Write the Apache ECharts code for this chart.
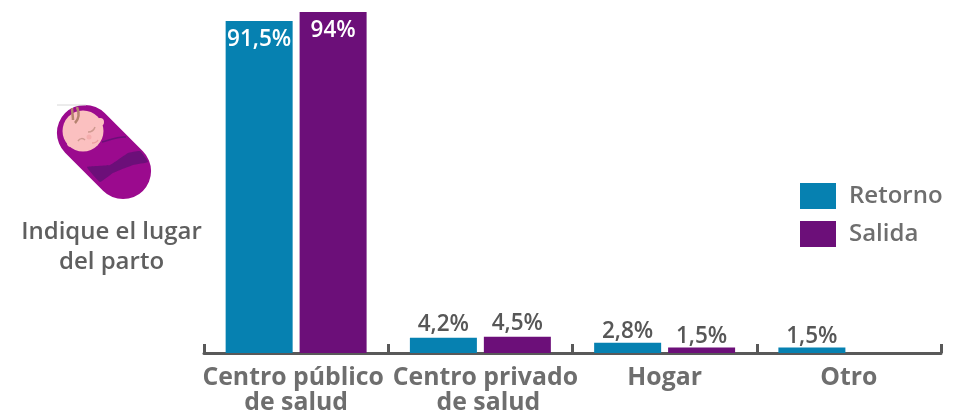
<!DOCTYPE html>
<html>
<head>
<meta charset="utf-8">
<style>html,body{margin:0;padding:0;background:#fff}#c{width:962px;height:413px}</style>
<script src="https://cdn.jsdelivr.net/npm/echarts@6/dist/echarts.min.js"></script>
</head>
<body>
<div id="c"></div>
<script>
const categories = ['Centro público\nde salud', 'Centro privado\nde salud', 'Hogar', 'Otro'];
const retorno = [91.5, 4.2, 2.8, 1.5];
const salida = [94, 4.5, 1.5, null];
const seriesNames = ['Retorno', 'Salida'];
const promptText = 'Indique el lugar\ndel parto';

const FONT = '"Open Sans"';
const BLUE = '#0681b1', PURPLE = '#6c0f79';
const fmt = p => String(p.value).replace('.', ',') + '%';
const labelFor = v => {
  if (v > 50) return { position: 'insideTop', distance: 7, color: '#fff' };
  if (v < 2) return { offset: [0, 3] };
  if (v < 3) return { offset: [0, 2] };
  return {};
};
const toItems = arr => arr.map(v => v === null ? v : ({ value: v, label: labelFor(v) }));
const chart = echarts.init(document.getElementById('c'), null, { renderer: 'canvas' });
const mkSeries = (name, arr, color) => ({
  name, type: 'bar', data: toItems(arr), barWidth: 67, barGap: '10.4%',
  itemStyle: { color },
  label: { show: true, position: 'top', distance: 2, formatter: fmt,
    fontFamily: FONT, fontWeight: 600, fontSize: 22.5, color: '#575757' }
});
const curve = (x1, y1, cpx1, cpy1, cpx2, cpy2, x2, y2, stroke, lineWidth) => ({
  type: 'bezierCurve', shape: { x1, y1, cpx1, cpy1, cpx2, cpy2, x2, y2 },
  style: { fill: 'none', stroke, lineWidth }
});
const axisRich = (extra) => Object.assign({ fontFamily: FONT, fontWeight: 700, fontSize: 24.8, lineHeight: 25, color: '#6e6e6e' }, extra);
chart.setOption({
  animation: false,
  grid: { left: 204, right: 21, top: 12, bottom: 60, outerBoundsMode: 'none' },
  legend: {
    orient: 'vertical', left: 795, top: 178, itemWidth: 36, itemHeight: 26, itemGap: 12,
    icon: 'rect', data: seriesNames, selectedMode: false,
    textStyle: { fontFamily: FONT, fontWeight: 600, fontSize: 24, color: '#6e6e6e', padding: [0, 0, 0, 8] }
  },
  xAxis: {
    type: 'category', data: categories,
    axisLine: { lineStyle: { color: '#595959', width: 3 } },
    axisTick: { show: true, inside: true, length: 9, lineStyle: { color: '#595959', width: 3 } },
    axisLabel: {
      interval: 0, margin: 12, fontFamily: FONT, fontWeight: 700, fontSize: 24.8, lineHeight: 25, color: '#6e6e6e',
      formatter: (v, i) => v.split('\n').map((l, j) => `{s${i}${j}|${l}}`).join('\n'),
      rich: {
        s00: axisRich({ padding: [0, 6, 0, 0] }), s01: axisRich({}),
        s10: axisRich({ padding: [0, 0, 0, 10] }), s11: axisRich({ padding: [0, 0, 0, 16] }),
        s20: axisRich({}), s30: axisRich({})
      }
    }
  },
  yAxis: { type: 'value', min: 0, max: 94, show: false, splitLine: { show: false } },
  series: [mkSeries(seriesNames[0], retorno, BLUE), mkSeries(seriesNames[1], salida, PURPLE)],
  graphic: [
    { type: 'rect', rotation: -Math.PI / 4, x: 104, y: 152, originX: 0, originY: 0,
      shape: { x: -55, y: -28, width: 110, height: 56, r: 28 }, style: { fill: '#9b0a8e' } },
    { type: 'polygon', shape: { smooth: 0.1, points: [[87,167],[110,165],[128,153],[140,151],[148,162],[133,165],[113,173],[100,182]] },
      style: { fill: '#6c0f79' } },
    curve(102,142,110,140,118,136,126,137,'#6c0f79',1.5),
    { type: 'line', shape: { x1: 57, y1: 105, x2: 86, y2: 105 }, style: { stroke: '#d8d8d8', lineWidth: 1 } },
    { type: 'circle', shape: { cx: 100, cy: 122, r: 4 }, style: { fill: '#fbc0c0' } },
    { type: 'circle', shape: { cx: 71, cy: 143, r: 4 }, style: { fill: '#fbc0c0' } },
    { type: 'circle', shape: { cx: 83, cy: 131, r: 20.5 }, style: { fill: '#fbc0c0' } },
    curve(72,108,72,112,73,116,73,120,'#b5826f',2.5),
    curve(77,107,79,112,80,118,75,123,'#b5826f',2.5),
    curve(88,132,91,132,94,130,95,127,'#cf9a90',1.5),
    curve(78,141,80,138,83,138,85,140,'#cf9a90',1.5),
    curve(92,143,95,143,97,142,98,140,'#ee9f9f',1.5),
    { type: 'circle', shape: { cx: 89, cy: 137, r: 2.5 }, style: { fill: '#f5aeae' } },
    { type: 'text', x: 111.5, y: 247, style: {
      text: promptText, fontFamily: FONT, fontWeight: 600, fontSize: 24, lineHeight: 30,
      fill: '#5f5f5f', align: 'center', verticalAlign: 'middle' } }
  ]
});
</script>
</body>
</html>
